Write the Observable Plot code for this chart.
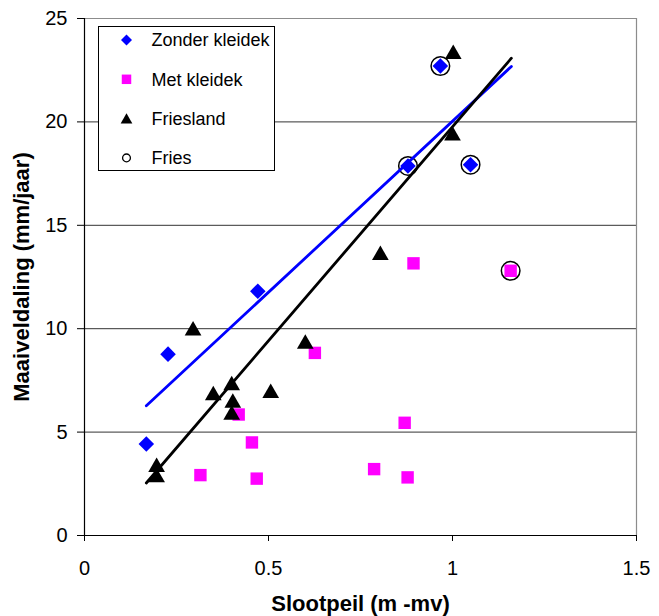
<!DOCTYPE html>
<html>
<head>
<meta charset="utf-8">
<script src="https://cdn.jsdelivr.net/npm/d3@7"></script>
<script src="https://cdn.jsdelivr.net/npm/@observablehq/plot@0.6"></script>
<style>
  body { margin: 0; background: #fff; }
  #chart svg { display: block; }
</style>
</head>
<body>
<div id="chart"></div>
<script>
// ---- Data ----
const seriesNames = ["Zonder kleidek", "Met kleidek", "Friesland", "Fries"];

const zonderX = [0.168, 0.227, 0.471, 0.879, 0.967, 1.049];
const zonderY = [4.42, 8.77, 11.81, 17.87, 22.70, 17.93];

const metX = [0.315, 0.419, 0.455, 0.468, 0.626, 0.787, 0.870, 0.878, 0.894, 1.158];
const metY = [2.92, 5.85, 4.50, 2.75, 8.83, 3.21, 5.45, 2.81, 13.16, 12.80];

const frieslandX = [0.196, 0.196, 0.295, 0.350, 0.400, 0.403, 0.400, 0.506, 0.600, 0.804, 1.000, 1.002];
const frieslandY = [2.90, 3.40, 10.00, 6.87, 7.35, 6.51, 5.93, 6.98, 9.36, 13.65, 19.43, 23.37];

const friesX = [0.967, 0.879, 1.049, 1.158];
const friesY = [22.70, 17.87, 17.93, 12.80];

// trend lines (end points)
const blueTrendX = [0.168, 1.160];
const blueTrendY = [6.27, 22.68];
const blackTrendX = [0.168, 1.160];
const blackTrendY = [2.54, 23.08];

const xTicks = [0, 0.5, 1, 1.5];
const yTicks = [0, 5, 10, 15, 20, 25];
const yGrid = [5, 10, 15, 20];

const xTitle = "Slootpeil (m -mv)";
const yTitle = "Maaiveldaling (mm/jaar)";

// ---- Build tables ----
const toRows = (xs, ys) => xs.map((x, i) => ({x, y: ys[i]}));
const zonder = toRows(zonderX, zonderY);
const met = toRows(metX, metY);
const friesland = toRows(frieslandX, frieslandY);
const fries = toRows(friesX, friesY);
const blueTrend = toRows(blueTrendX, blueTrendY);
const blackTrend = toRows(blackTrendX, blackTrendY);

const font = "'Liberation Sans', Arial, Helvetica, sans-serif";

const chart = Plot.plot({
  width: 659,
  height: 616,
  marginLeft: 84,
  marginRight: 23,
  marginTop: 18,
  marginBottom: 81,
  style: {fontFamily: font, background: "white", color: "black", overflow: "visible"},
  x: {domain: [0, 1.5]},
  y: {domain: [0, 25]},
  marks: [
    Plot.ruleY(yGrid, {stroke: "#333", strokeWidth: 1}),
    Plot.ruleY([25], {stroke: "#8c8c8c", strokeWidth: 1.2}),
    Plot.ruleX([1.5], {stroke: "#8c8c8c", strokeWidth: 1.2}),
    Plot.ruleY([0], {stroke: "#000", strokeWidth: 1.2}),
    Plot.ruleX([0], {stroke: "#000", strokeWidth: 1.2}),
    Plot.axisY({ticks: yTicks, tickSize: 7, tickPadding: 10, tickFormat: d => String(d), label: null, fontSize: 20, stroke: "#000"}),
    Plot.axisX({ticks: xTicks, tickSize: 6, tickPadding: 19, tickFormat: d => String(d), label: null, fontSize: 20, stroke: "#000"}),
    Plot.text([xTitle], {frameAnchor: "bottom", dy: 68, lineAnchor: "middle", textAnchor: "middle", fontWeight: "bold", fontSize: 22, fill: "#000"}),
    Plot.text([yTitle], {frameAnchor: "left", dx: -63, rotate: -90, lineAnchor: "middle", textAnchor: "middle", fontWeight: "bold", fontSize: 22, fill: "#000"}),
    Plot.dot(zonder, {x: "x", y: "y", symbol: "diamond2", r: 7, fill: "#0000FF", stroke: "none"}),
    Plot.dot(met, {x: "x", y: "y", symbol: "square", r: 7, fill: "#FF00FF", stroke: "none"}),
    Plot.dot(friesland, {x: "x", y: "y", symbol: "triangle", r: 6.2, dy: 2, fill: "#000", stroke: "none"}),
    Plot.dot(fries, {x: "x", y: "y", symbol: "circle", r: 9.3, fill: "none", stroke: "#000", strokeWidth: 1.5}),
    Plot.line(blueTrend, {x: "x", y: "y", stroke: "#0000FF", strokeWidth: 2.8}),
    Plot.line(blackTrend, {x: "x", y: "y", stroke: "#000", strokeWidth: 2.8})
  ]
});

// ---- Legend (inside the plot area, top-left) ----
const svg = d3.select(chart);
const lg = svg.append("g").attr("transform", "translate(98.5,26.5)");
lg.append("rect").attr("width", 176).attr("height", 144)
  .attr("fill", "white").attr("stroke", "#000").attr("stroke-width", 1);
const legendItems = [
  {name: seriesNames[0], sym: d3.symbolDiamond2, size: 77, fill: "#0000FF", stroke: "none"},
  {name: seriesNames[1], sym: d3.symbolSquare, size: 90, fill: "#FF00FF", stroke: "none"},
  {name: seriesNames[2], sym: d3.symbolTriangle, size: 59, fill: "#000", stroke: "none"},
  {name: seriesNames[3], sym: d3.symbolCircle, size: 48, fill: "none", stroke: "#000"}
];
legendItems.forEach((it, i) => {
  const cy = 13.5 + i * 39.3;
  lg.append("path")
    .attr("d", d3.symbol(it.sym, it.size)())
    .attr("transform", `translate(28,${cy + (it.sym === d3.symbolTriangle ? 1.5 : 0)})`)
    .attr("fill", it.fill).attr("stroke", it.stroke).attr("stroke-width", 1.3);
  lg.append("text")
    .attr("x", 53).attr("y", cy).attr("dy", "0.35em")
    .attr("text-anchor", "start")
    .attr("font-family", font).attr("font-size", 18).attr("fill", "#000")
    .text(it.name);
});

document.getElementById("chart").append(chart);
</script>
</body>
</html>
